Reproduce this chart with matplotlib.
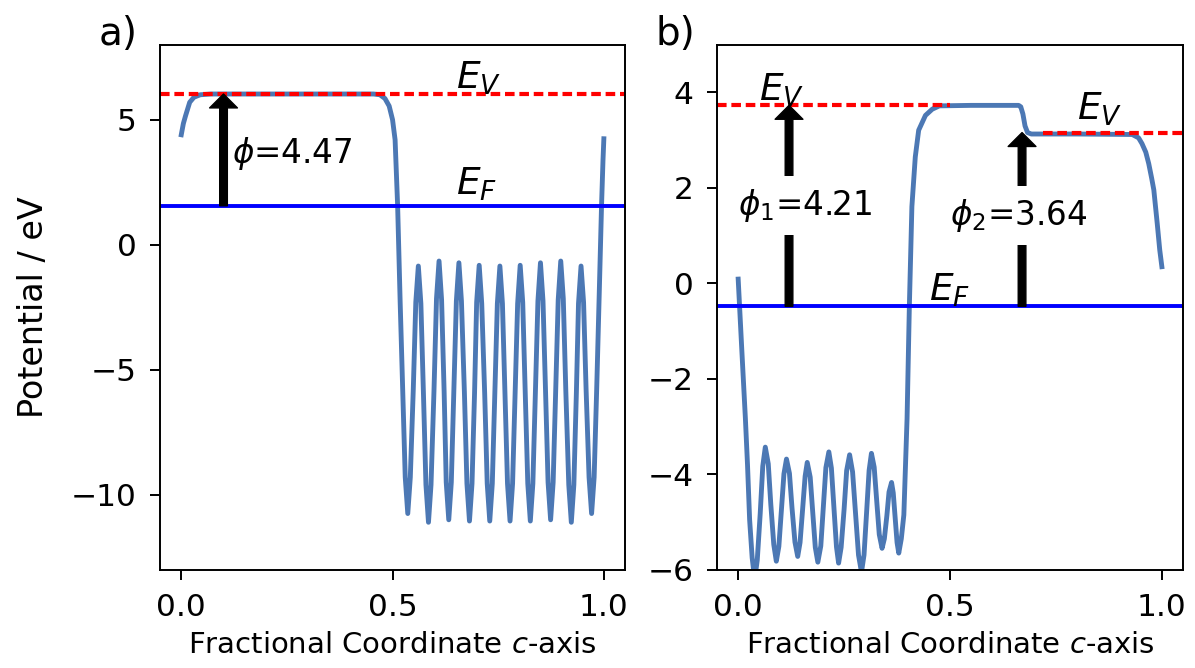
import matplotlib
matplotlib.use("Agg")
import matplotlib.pyplot as plt

# panel a: planar potential along c
xa = [0.000, 0.005, 0.010, 0.020, 0.030, 0.045, 0.070, 0.250, 0.455, 0.470,
      0.482, 0.492, 0.500, 0.506, 0.512, 0.518, 0.524, 0.530, 0.536,
      0.542, 0.549, 0.555, 0.561, 0.567, 0.573, 0.579, 0.585,
      0.591, 0.598, 0.604, 0.610, 0.616, 0.622, 0.627, 0.633,
      0.639, 0.645, 0.651, 0.657, 0.663, 0.670, 0.676, 0.682,
      0.688, 0.694, 0.699, 0.705, 0.711, 0.718, 0.724, 0.730,
      0.736, 0.742, 0.748, 0.754, 0.760, 0.766, 0.772, 0.778,
      0.784, 0.790, 0.796, 0.802, 0.808, 0.814, 0.820, 0.826,
      0.832, 0.838, 0.844, 0.850, 0.856, 0.862, 0.868, 0.874,
      0.880, 0.886, 0.892, 0.898, 0.904, 0.910, 0.917, 0.923,
      0.929, 0.935, 0.940, 0.946, 0.952, 0.958, 0.965, 0.971,
      0.977, 0.983, 0.989, 0.9945, 0.998, 1.000]
ya = [4.40, 4.85, 5.15, 5.70, 5.90, 6.00, 6.03, 6.03, 6.03, 6.00,
      5.85, 5.55, 5.00, 4.20, 1.56, -2.30, -5.80, -9.30, -10.75,
      -9.30, -5.80, -2.30, -0.85, -2.35, -5.90, -9.60, -11.10,
      -9.60, -5.85, -2.15, -0.65, -2.20, -5.85, -9.50, -11.00,
      -9.50, -5.85, -2.25, -0.72, -2.25, -5.90, -9.55, -11.05,
      -9.55, -5.95, -2.30, -0.82, -2.35, -5.95, -9.55, -11.05,
      -9.55, -5.95, -2.35, -0.85, -2.35, -5.95, -9.55, -11.05,
      -9.55, -5.95, -2.35, -0.82, -2.30, -5.95, -9.55, -11.05,
      -9.55, -5.90, -2.25, -0.72, -2.25, -5.85, -9.50, -11.00,
      -9.50, -5.85, -2.20, -0.65, -2.15, -5.85, -9.60, -11.10,
      -9.60, -5.90, -2.35, -0.85, -2.30, -5.80, -9.30, -10.75,
      -9.30, -5.80, -2.00, 1.56, 3.40, 4.24]

# panel b
xb = [0.000, 0.008, 0.017, 0.022, 0.027, 0.033, 0.039,
      0.045, 0.052, 0.058, 0.064, 0.071, 0.077, 0.084, 0.090,
      0.096, 0.102, 0.108, 0.114, 0.121, 0.127, 0.134, 0.1405,
      0.146, 0.152, 0.158, 0.163, 0.170, 0.176, 0.182, 0.188,
      0.195, 0.201, 0.207, 0.214, 0.220, 0.226, 0.232, 0.237,
      0.243, 0.250, 0.256, 0.263, 0.270, 0.277, 0.284, 0.291,
      0.297, 0.303, 0.309, 0.3145, 0.321, 0.327, 0.333, 0.3396,
      0.345, 0.351, 0.356, 0.362, 0.366, 0.3705, 0.375, 0.379,
      0.385, 0.391, 0.3986, 0.404, 0.410, 0.418, 0.426, 0.442,
      0.458, 0.475, 0.550, 0.662, 0.667, 0.672, 0.677, 0.683,
      0.692, 0.800, 0.930, 0.945, 0.953, 0.962, 0.969, 0.976,
      0.981, 0.989, 0.995, 1.000]
yb = [0.09, -1.30, -2.83, -3.80, -4.95, -5.75, -6.20,
      -5.80, -4.82, -3.83, -3.43, -3.78, -4.63, -5.47, -5.82,
      -5.51, -4.75, -3.99, -3.68, -3.98, -4.70, -5.42, -5.72,
      -5.43, -4.74, -4.04, -3.75, -4.06, -4.80, -5.53, -5.84,
      -5.50, -4.68, -3.86, -3.53, -3.87, -4.70, -5.52, -5.86,
      -5.53, -4.73, -3.92, -3.59, -3.95, -4.82, -5.69, -6.05,
      -5.69, -4.81, -3.92, -3.56, -3.85, -4.56, -5.26, -5.55,
      -5.35, -4.86, -4.37, -4.17, -4.39, -4.91, -5.43, -5.65,
      -5.35, -4.85, -2.83, -0.48, 1.61, 2.65, 3.21, 3.52,
      3.65, 3.72, 3.73, 3.73, 3.70, 3.55, 3.30, 3.16,
      3.13, 3.13, 3.12, 3.05, 2.93, 2.75, 2.51, 2.20,
      1.96, 1.26, 0.70, 0.35]

ef_a, ev_a = 1.56, 6.03
ef_b = -0.48
ev_b1, ev_b2 = 3.73, 3.16

curve_col = "#4c78b4"
dash = (0, (2.3, 1.15))

fig = plt.figure(figsize=(11.95, 6.68), dpi=100)
ax1 = fig.add_axes([0.134, 0.147, 0.389, 0.786])
ax2 = fig.add_axes([0.600, 0.147, 0.390, 0.786])

for ax in (ax1, ax2):
    ax.set_xlim(-0.05, 1.05)
    ax.set_xticks([0.0, 0.5, 1.0])
    ax.tick_params(labelsize=22.5, length=7, width=1.4, pad=10)
    for s in ax.spines.values():
        s.set_linewidth(1.4)
    ax.set_xlabel("Fractional Coordinate $c$-axis", fontsize=21, labelpad=6)

# a)
ax1.plot(xa, ya, color=curve_col, lw=3.5)
ax1.axhline(ef_a, color="b", lw=2.8)
ax1.axhline(ev_a, color="r", lw=3.0, linestyle=dash)
ax1.set_ylim(-13, 8)
ax1.set_yticks([-10, -5, 0, 5])
ax1.set_ylabel("Potential / eV", fontsize=24, labelpad=15)
ax1.annotate("", xy=(0.1, ev_a), xytext=(0.1, ef_a),
             arrowprops=dict(facecolor="black", edgecolor="black", width=5.5,
                             headwidth=20, headlength=10, shrink=0))
ax1.text(0.12, 3.28, r"$\phi$=4.47", fontsize=23.5, va="baseline")
ax1.text(0.65, 6.24, "$E_V$", fontsize=27, va="baseline")
ax1.text(0.65, 2.0, "$E_F$", fontsize=27, va="baseline")
ax1.text(-0.133, 1.0, "a)", transform=ax1.transAxes, fontsize=28, va="baseline")

# b)
ax2.plot(xb, yb, color=curve_col, lw=3.5)
ax2.axhline(ef_b, color="b", lw=2.8)
ax2.axhline(ev_b1, xmin=0, xmax=0.5, color="r", lw=3.0, linestyle=dash)
ax2.axhline(ev_b2, xmin=0.7, xmax=1, color="r", lw=3.0, linestyle=dash)
ax2.set_ylim(-6, 5)
ax2.set_yticks([-6, -4, -2, 0, 2, 4])
for xarr, top in ((0.12, ev_b1), (0.67, ev_b2)):
    ax2.annotate("", xy=(xarr, top), xytext=(xarr, ef_b),
                 arrowprops=dict(facecolor="black", edgecolor="black", width=5.5,
                                 headwidth=20, headlength=10, shrink=0,
                                 shrinkB=3))
box = dict(facecolor="white", edgecolor="none", pad=8)
ax2.text(0.0, 1.44, r"$\phi_1$=4.21", fontsize=23.5, va="baseline", bbox=box, zorder=5)
ax2.text(0.5, 1.23, r"$\phi_2$=3.64", fontsize=23.5, va="baseline", bbox=box, zorder=5)
ax2.text(0.05, 3.83, "$E_V$", fontsize=27, va="baseline")
ax2.text(0.80, 3.42, "$E_V$", fontsize=27, va="baseline")
ax2.text(0.45, -0.37, "$E_F$", fontsize=27, va="baseline")
ax2.text(-0.133, 1.0, "b)", transform=ax2.transAxes, fontsize=28, va="baseline")

fig.savefig("out.png", dpi=100)
